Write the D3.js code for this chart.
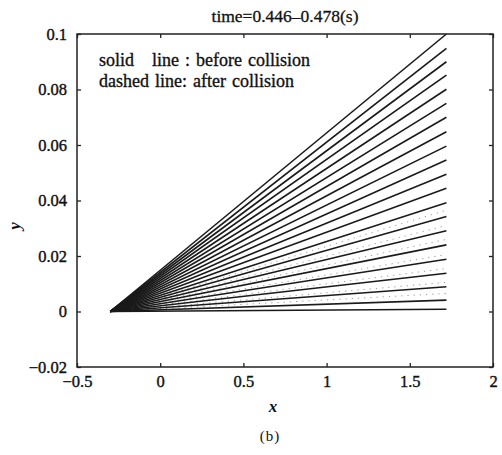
<!DOCTYPE html>
<html><head><meta charset="utf-8">
<script src="https://cdn.jsdelivr.net/npm/d3@7"></script>
<style>
html,body{margin:0;padding:0;background:#fff;}
text{font-family:"Liberation Serif","Times New Roman",serif;fill:#111;}
</style></head>
<body><svg id="c" width="502" height="455"></svg>
<script>
// Data
const xTicks = [-0.5, 0, 0.5, 1, 1.5, 2];
const xTickLabels = ["\u22120.5", "0", "0.5", "1", "1.5", "2"];
const yTicks = [-0.02, 0, 0.02, 0.04, 0.06, 0.08, 0.1];
const yTickLabels = ["\u22120.02", "0", "0.02", "0.04", "0.06", "0.08", "0.1"];
const lineStartX = -0.3;
const lineStartY = 0;
const lineEndX = 1.72;
const solidEnds = [0.1, 0.0948, 0.09, 0.0852, 0.0801, 0.075, 0.07, 0.0648, 0.0596, 0.0546,
  0.0495, 0.0444, 0.0392, 0.0342, 0.0291, 0.024, 0.0188, 0.0138, 0.0089, 0.0041, 0.0008];
const dashedEnds = [0.0365, 0.031, 0.026, 0.0205, 0.0155, 0.0105, 0.0065];
const title = "time=0.446\u20130.478(s)";
const legendLines = ["solid   line : before collision", "dashed line: after collision"];

const svg = d3.select("#c");
const L = 77, R = 493, T = 34, B = 367;
const x = d3.scaleLinear().domain([-0.5, 2]).range([L, R]);
const y = d3.scaleLinear().domain([-0.02, 0.1]).range([B, T]);

const line = d3.line().x(d => x(d[0])).y(d => y(d[1]));

// dashed (after collision)
svg.append("g").selectAll("path").data(dashedEnds).join("path")
  .attr("d", e => line([[lineStartX, lineStartY], [lineEndX, e]]))
  .attr("fill", "none").attr("stroke", "#999").attr("stroke-width", 1)
  .attr("stroke-dasharray", "1.2,5");

// solid (before collision)
svg.append("g").selectAll("path").data(solidEnds).join("path")
  .attr("d", e => line([[lineStartX, lineStartY], [lineEndX, e]]))
  .attr("fill", "none").attr("stroke", "#1a1a1a").attr("stroke-width", 1.6);

// frame
svg.append("rect").attr("x", L).attr("y", T).attr("width", R - L).attr("height", B - T)
  .attr("fill", "none").attr("stroke", "#222").attr("stroke-width", 1.5);

// axes with inward ticks
const tk = 4;
const xb = svg.append("g").attr("transform", `translate(0,${B})`)
  .call(d3.axisBottom(x).tickValues(xTicks).tickSizeInner(-tk).tickSizeOuter(0)
    .tickFormat((d, i) => xTickLabels[i]).tickPadding(8));
const xt = svg.append("g").attr("transform", `translate(0,${T})`)
  .call(d3.axisTop(x).tickValues(xTicks).tickSizeInner(-tk).tickSizeOuter(0).tickFormat(""));
const yl = svg.append("g").attr("transform", `translate(${L},0)`)
  .call(d3.axisLeft(y).tickValues(yTicks).tickSizeInner(-tk).tickSizeOuter(0)
    .tickFormat((d, i) => yTickLabels[i]).tickPadding(10));
const yr = svg.append("g").attr("transform", `translate(${R},0)`)
  .call(d3.axisRight(y).tickValues(yTicks).tickSizeInner(-tk).tickSizeOuter(0).tickFormat(""));
[xb, xt, yl, yr].forEach(g => {
  g.select(".domain").remove();
  g.selectAll("line").attr("stroke", "#222").attr("stroke-width", 1.3);
  g.selectAll("text").style("font-family", '"Liberation Serif", serif')
    .style("font-size", "16.5px").attr("fill", "#111")
    .attr("stroke", "#111").attr("stroke-width", 0.4);
});

// title
svg.append("text").attr("x", 285).attr("y", 22).attr("text-anchor", "middle")
  .style("font-size", "17.5px").attr("stroke", "#111").attr("stroke-width", 0.3).text(title);

// legend text
svg.selectAll(".lg").data(legendLines).join("text").attr("class", "lg")
  .attr("x", 99).attr("y", (d, i) => 66 + i * 21)
  .style("font-size", "18px").style("white-space", "pre").style("word-spacing", "1.5px")
  .attr("xml:space", "preserve")
  .attr("stroke", "#111").attr("stroke-width", 0.35).text(d => d);

// axis labels
svg.append("text").attr("x", 273).attr("y", 412).attr("text-anchor", "middle")
  .style("font-size", "17px").style("font-style", "italic").style("font-weight", "bold").text("x");
svg.append("text").attr("transform", "translate(20,226) rotate(-90)").attr("text-anchor", "middle")
  .style("font-size", "17px").style("font-style", "italic").style("font-weight", "bold").text("y");

// caption
svg.append("text").attr("x", 270).attr("y", 441).attr("text-anchor", "middle")
  .style("font-size", "15px").style("letter-spacing", "1px").text("(b)");
</script></body></html>
